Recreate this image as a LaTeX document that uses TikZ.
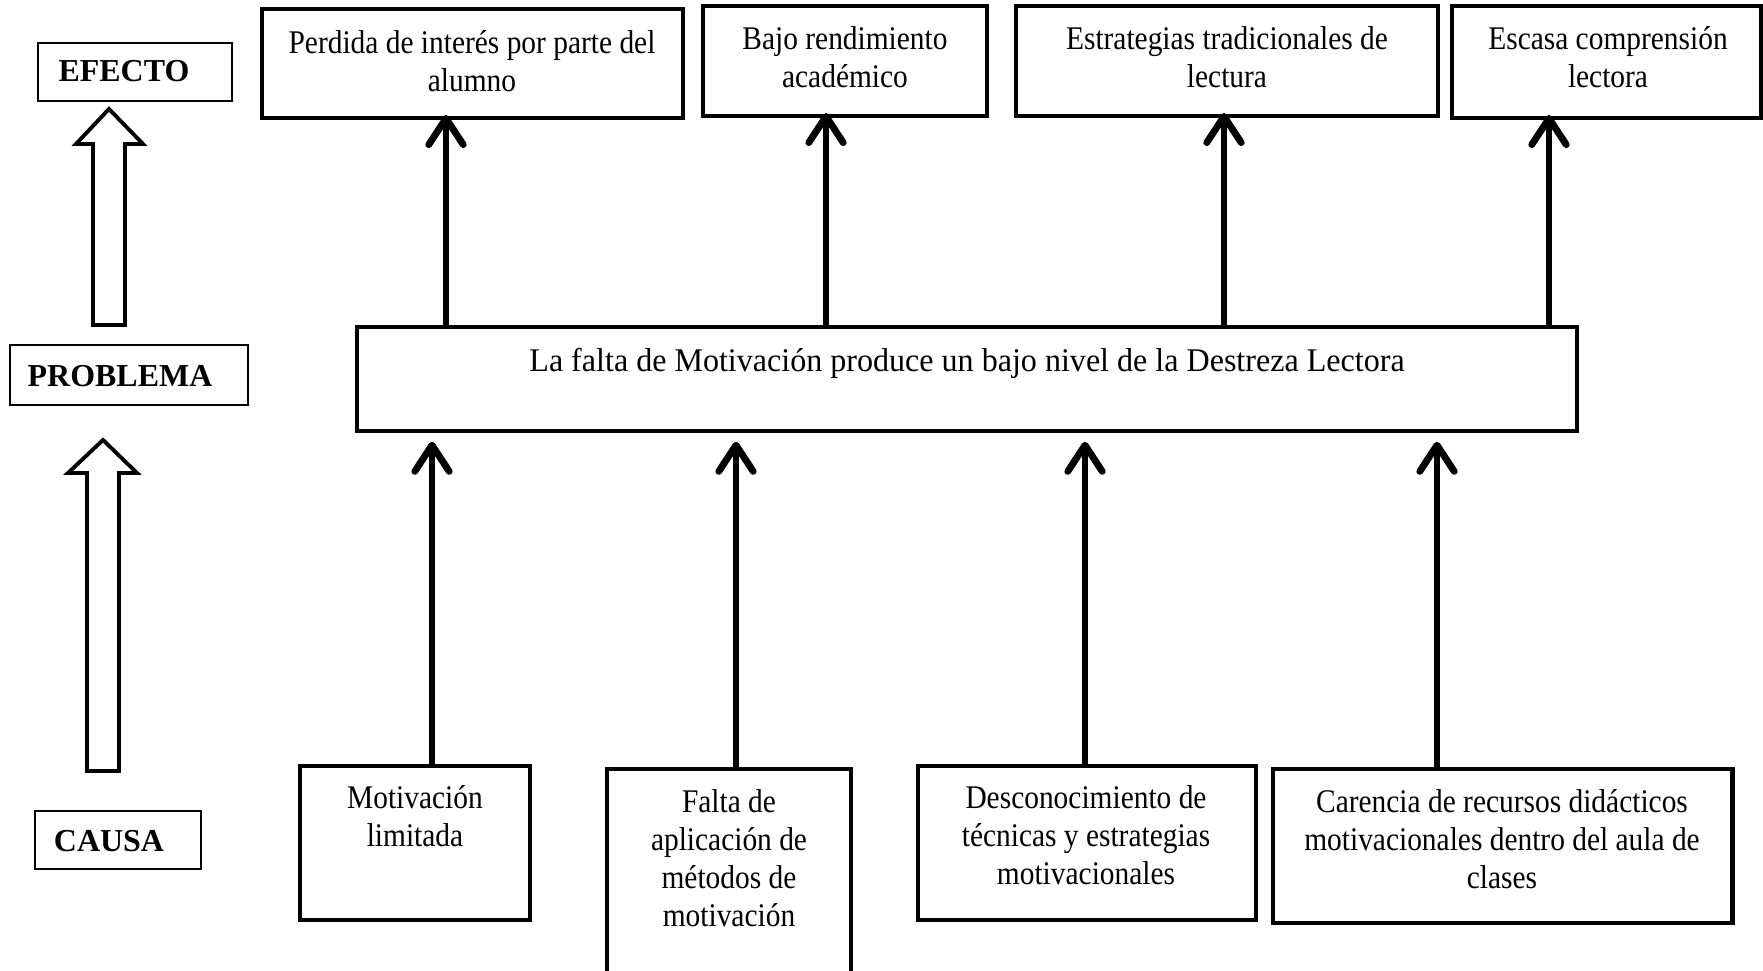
\documentclass[tikz,border=0pt]{standalone}
\usepackage{fontspec}
\setmainfont{Liberation Serif}
\newfontfamily\boxfont[FakeStretch=0.89]{Liberation Serif}
\newfontfamily\probfont[FakeStretch=0.97]{Liberation Serif}
\usetikzlibrary{arrows.meta,fit}

\tikzset{
  heavy/.style={draw, line width=1.8pt, inner sep=0pt},
  tag/.style={draw, line width=0.5pt, inner sep=0pt},
  txt/.style={align=center, inner sep=0pt, font=\boxfont\fontsize{12}{13.8}\selectfont},
  tagtxt/.style={inner sep=0pt, font=\fontsize{11.6}{13.8}\selectfont\bfseries},
  conn/.style={line width=2.5pt, -{Straight Barb[length=9.5pt,width=12.5pt,round]}},
  hollow/.style={line width=1.4pt, line join=miter},
}

\begin{document}
\begin{tikzpicture}[x=0.363pt, y=-0.363pt]
  \useasboundingbox (0,0) rectangle (1763,971);
  \clip (0,0) rectangle (1763,971);

  % left column: labels and hollow arrows
  \node[tag, fit={(38,43) (232,101)}] (efecto) {};
  \node[tagtxt] (efectot) at (124,71) {EFECTO};
  \node[tag, fit={(10,345) (248,405)}] (problema) {};
  \node[tagtxt] (problemat) at (120,376) {PROBLEMA};
  \node[tag, fit={(35,811) (201,869)}] (causa) {};
  \node[tagtxt] (causat) at (109,841) {CAUSA};
  \draw[hollow] (93,325) -- (93,144) -- (76,144) -- (109,109)
    -- (143,144) -- (125,144) -- (125,325) -- cycle;
  \draw[hollow] (87,771) -- (87,473) -- (68,473) -- (103,440)
    -- (137,473) -- (119,473) -- (119,771) -- cycle;

  % effects
  \node[heavy, fit={(262,9) (683,118)}] (e1) {};
  \node[txt] (e1t) at (472,61) {Perdida de interés por parte del\\alumno};
  \node[heavy, fit={(703,6) (987,116)}] (e2) {};
  \node[txt] (e2t) at (845,57) {Bajo rendimiento\\académico};
  \node[heavy, fit={(1016,6) (1438,116)}] (e3) {};
  \node[txt] (e3t) at (1227,57) {Estrategias tradicionales de\\lectura};
  \node[heavy, fit={(1452,6) (1761,118)}] (e4) {};
  \node[txt] (e4t) at (1608,57) {Escasa comprensión\\lectora};

  % problem
  \node[heavy, fit={(357,327) (1577,431)}] (prob) {};
  \node[txt, font=\probfont\fontsize{12}{13.8}\selectfont] (probt) at (967,363)
    {La falta de Motivación produce un bajo nivel de la Destreza Lectora};

  % causes
  \node[heavy, fit={(300,766) (530,920)}] (c1) {};
  \node[txt] (c1t) at (415,816) {Motivación\\limitada};
  \node[heavy, fit={(607,769) (851,990)}] (c2) {};
  \node[txt] (c2t) at (729,858) {Falta de\\aplicación de\\métodos de\\motivación};
  \node[heavy, fit={(918,766) (1256,920)}] (c3) {};
  \node[txt] (c3t) at (1086,835) {Desconocimiento de\\técnicas y estrategias\\motivacionales};
  \node[heavy, fit={(1273,769) (1732,923)}] (c4) {};
  \node[txt] (c4t) at (1502,839) {Carencia de recursos didácticos\\motivacionales dentro del aula de\\clases};

  % connectors
  \foreach \n/\x in {e1/446, e2/826, e3/1224, e4/1549}{
    \draw[conn, shorten >=-2pt] (prob.north -| \x,0) -- (\n.south -| \x,0);
  }
  \foreach \n/\x in {c1/432, c2/736, c3/1085, c4/1437}{
    \draw[conn, shorten >=3pt] (\n.north -| \x,0) -- (prob.south -| \x,0);
  }
\end{tikzpicture}
\end{document}
